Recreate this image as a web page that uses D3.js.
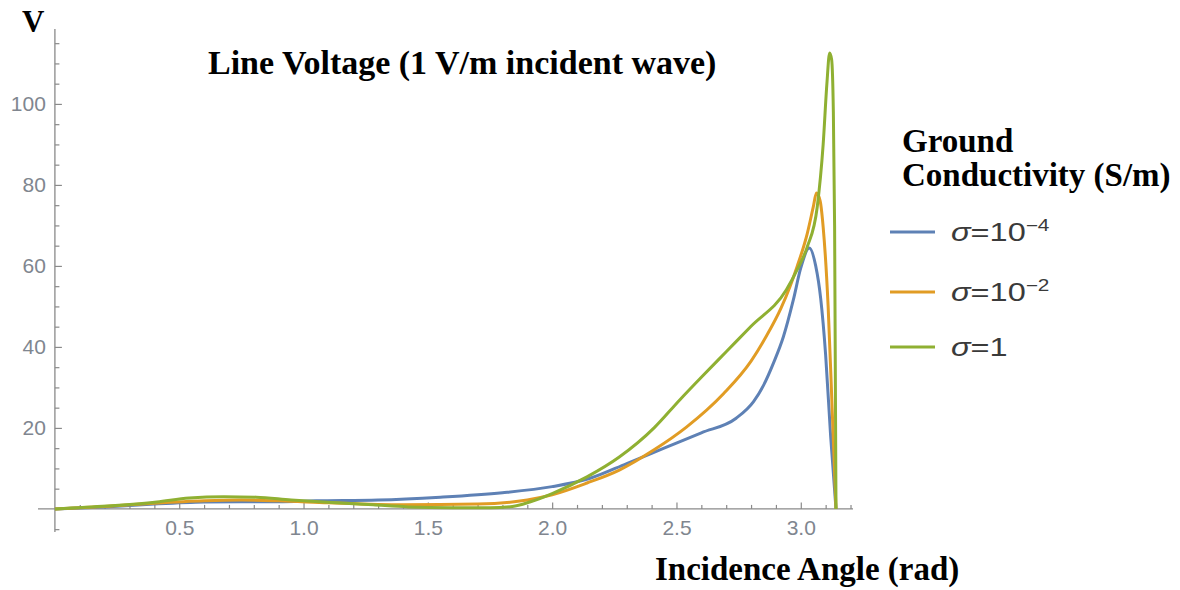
<!DOCTYPE html>
<html>
<head>
<meta charset="utf-8">
<script src="https://cdn.jsdelivr.net/npm/d3@7"></script>
<style>
  html, body { margin: 0; padding: 0; background: #fff; }
  svg { display: block; }
  .tick text { font-family: "Liberation Sans", Arial, sans-serif; font-size: 21px; fill: #80868f; }
  .serif { font-family: "Liberation Serif", "Times New Roman", serif; font-weight: bold; fill: #000; }
</style>
</head>
<body>
<svg id="chart" width="1180" height="590"></svg>
<script>
// Incidence angle (rad) and induced line voltage (V) for each ground conductivity
const angleS4 = [0, 0.2, 0.4, 0.6, 0.75, 0.9, 1.05, 1.3, 1.55, 1.8, 2.0, 2.15, 2.3, 2.45, 2.6, 2.74, 2.81, 2.85, 2.89, 2.93, 2.97, 3.0, 3.034, 3.06, 3.08, 3.1, 3.12, 3.1416];
const voltS4  = [0, 0.5, 1.2, 1.7, 1.8, 1.8, 2.0, 2.2, 2.9, 4.0, 5.5, 7.5, 11.2, 15, 18.8, 22.4, 26.5, 30.5, 36, 42.5, 51.6, 59.5, 64.4, 60, 52, 38, 18, 0];

const angleS2 = [0, 0.2, 0.4, 0.6, 0.75, 0.9, 1.1, 1.4, 1.7, 1.9, 2.0, 2.14, 2.27, 2.41, 2.54, 2.69, 2.8, 2.86, 2.92, 2.956, 2.985, 3.026, 3.05, 3.063, 3.078, 3.09, 3.11, 3.126, 3.1416];
const voltS2  = [0, 0.6, 1.4, 2.0, 2.2, 2.0, 1.5, 1.0, 1.2, 2.2, 3.5, 6.4, 9.6, 14.6, 20.2, 28.5, 36.5, 42.5, 49.5, 54.8, 59.8, 68, 74.5, 78, 76, 69.6, 50, 25, 0];

const angleS0 = [0, 0.21, 0.41, 0.54, 0.68, 0.81, 0.95, 1.08, 1.28, 1.42, 1.6, 1.75, 1.84, 1.91, 2.0, 2.14, 2.27, 2.41, 2.513, 2.6, 2.7, 2.8, 2.942, 2.985, 3.026, 3.066, 3.09, 3.105, 3.116, 3.124, 3.131, 3.136, 3.1416];
const voltS0  = [0, 0.7, 1.7, 2.7, 3.0, 2.9, 2.2, 1.7, 1.0, 0.5, 0.3, 0.3, 0.6, 1.7, 3.8, 7.9, 12.8, 20, 26.9, 32.5, 38.8, 45.1, 54.1, 59, 64.7, 74.5, 90, 105, 112.6, 111, 98, 70, 0];

const seriesNames  = ["σ=10", "σ=10", "σ=1"];
const seriesExp    = ["−4", "−2", ""];
const seriesColors = ["#5e81b5", "#e19c24", "#8fb032"];

const xMajorTicks = [0.5, 1.0, 1.5, 2.0, 2.5, 3.0];
const xMinorTicks = d3.range(1, 33).map(d => d / 10).filter(d => Math.abs(d * 2 - Math.round(d * 2)) > 1e-6);
const yMajorTicks = [20, 40, 60, 80, 100];
const yMinorTicks = d3.range(-5, 120, 5).filter(d => d % 20 !== 0);

const svg = d3.select("#chart");

const x = d3.scaleLinear().domain([-0.068, 3.21]).range([38, 853]);
const y = d3.scaleLinear().domain([-5.7, 118.5]).range([532, 29]);

const axisColor = "#8a8a8a";

// y axis (ticks point into the plot, labels on the left)
const gy = svg.append("g").attr("transform", `translate(${x(0)},0)`);
gy.append("line").attr("x1", 0).attr("x2", 0).attr("y1", y.range()[0]).attr("y2", y.range()[1])
  .attr("stroke", axisColor).attr("stroke-width", 1.3);
const yMaj = gy.append("g").call(d3.axisLeft(y).tickValues(yMajorTicks).tickSizeInner(-7).tickSizeOuter(0).tickPadding(9).tickFormat(d3.format("d")));
const yMin = gy.append("g").call(d3.axisLeft(y).tickValues(yMinorTicks).tickSizeInner(-4.5).tickSizeOuter(0).tickFormat(""));

// x axis (ticks point up, labels below)
const gx = svg.append("g").attr("transform", `translate(0,${y(0)})`);
gx.append("line").attr("x1", x.range()[0]).attr("x2", x.range()[1]).attr("y1", 0).attr("y2", 0)
  .attr("stroke", axisColor).attr("stroke-width", 1.3);
const xMaj = gx.append("g").call(d3.axisBottom(x).tickValues(xMajorTicks).tickSizeInner(-6.5).tickSizeOuter(0).tickPadding(11).tickFormat(d3.format(".1f")));
const xMin = gx.append("g").call(d3.axisBottom(x).tickValues(xMinorTicks).tickSizeInner(-4).tickSizeOuter(0).tickFormat(""));

[yMaj, yMin, xMaj, xMin].forEach(g => {
  g.select(".domain").remove();
  g.selectAll(".tick line").attr("stroke", axisColor).attr("stroke-width", 1.2);
});

// curves
const line = d3.line().x(d => x(d[0])).y(d => y(d[1])).curve(d3.curveMonotoneX);
const series = [
  d3.zip(angleS4, voltS4),
  d3.zip(angleS2, voltS2),
  d3.zip(angleS0, voltS0)
];
svg.append("g").selectAll("path").data(series).join("path")
  .attr("d", line)
  .attr("fill", "none")
  .attr("stroke", (d, i) => seriesColors[i])
  .attr("stroke-width", 3)
  .attr("stroke-linejoin", "round");

// titles
svg.append("text").attr("class", "serif").attr("x", 22).attr("y", 32).attr("font-size", 31).text("V");
svg.append("text").attr("class", "serif").attr("x", 208).attr("y", 74).attr("font-size", 34).text("Line Voltage (1 V/m incident wave)");
svg.append("text").attr("class", "serif").attr("x", 655).attr("y", 580).attr("font-size", 33).text("Incidence Angle (rad)");

// legend
svg.append("text").attr("class", "serif").attr("x", 902).attr("y", 152).attr("font-size", 33).text("Ground");
svg.append("text").attr("class", "serif").attr("x", 902).attr("y", 186).attr("font-size", 33).text("Conductivity (S/m)");

const legendY = [232, 292, 347];
const lg = svg.append("g");
seriesColors.forEach((c, i) => {
  lg.append("line").attr("x1", 890).attr("x2", 935).attr("y1", legendY[i]).attr("y2", legendY[i])
    .attr("stroke", c).attr("stroke-width", 3);
  // legend labels are set in a slightly widened face
  const t = lg.append("text").attr("transform", `translate(951,${legendY[i] + 9}) scale(1.3,1)`)
    .attr("font-family", "'Liberation Sans', Arial, sans-serif").attr("font-size", 25).attr("fill", "#3a3a3a");
  t.append("tspan").attr("font-style", "italic").text(seriesNames[i].slice(0, 1));
  t.append("tspan").text(seriesNames[i].slice(1));
  if (seriesExp[i]) {
    t.append("tspan").attr("font-size", 16).attr("dy", -10).text(seriesExp[i]);
  }
});
</script>
</body>
</html>
